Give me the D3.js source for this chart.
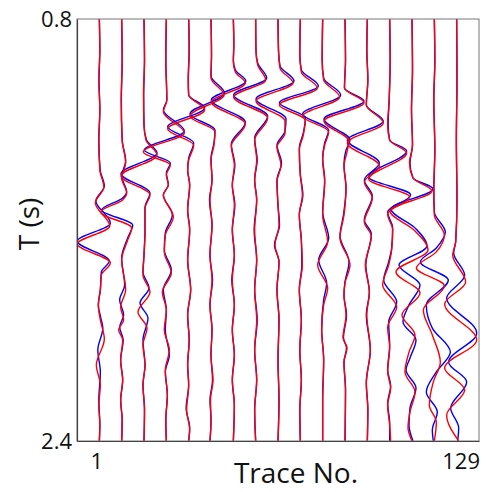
<!DOCTYPE html>
<html>
<head>
<meta charset="utf-8">
<script src="https://cdn.jsdelivr.net/npm/d3@7"></script>
<style>
  body { margin: 0; background: #fff; }
  svg { display: block; }
  text { font-family: "Open Sans", "Noto Sans", sans-serif; fill: #111; }
</style>
</head>
<body>
<svg id="chart" width="487" height="492"></svg>
<script>
// Trace numbers of the plotted gather (every 8th trace)
const traceNumbers = [1, 9, 17, 25, 33, 41, 49, 57, 65, 73, 81, 89, 97, 105, 113, 121, 129];
const timeTicks = [0.8, 2.4];
const traceTicks = [1, 129];

// Each trace is a list of [time (s), deflection in trace-number units]
const redTraces = [
  [[0.800,0],[0.918,0.18],[1.031,-0.18],[1.145,0.18],[1.259,-0.18],[1.373,0.18],[1.437,1.61],[1.498,-1.43],[1.585,3.76],[1.653,-7.88],[1.725,3.94],[1.771,0.72],[1.827,0.36],[1.884,-0.36],[1.941,0.36],[2.013,1.79],[2.112,-1.07],[2.188,0.36],[2.264,-0.18],[2.339,0.18],[2.400,0]],
  [[0.800,0],[0.955,0.18],[1.107,-0.18],[1.259,0.18],[1.346,1.43],[1.403,0],[1.460,1.79],[1.486,0.36],[1.532,-7.52],[1.592,3.58],[1.638,2.15],[1.714,0],[1.827,1.43],[1.892,-0.36],[1.941,0.72],[1.979,-1.07],[2.017,0.36],[2.093,-0.36],[2.169,0.36],[2.245,-0.36],[2.320,0.18],[2.400,0]],
  [[0.800,0],[0.955,0.18],[1.088,-0.18],[1.202,0],[1.259,0.72],[1.316,4.66],[1.395,-8.24],[1.467,2.15],[1.517,0.36],[1.600,0.36],[1.695,0],[1.771,-0.36],[1.835,2.15],[1.911,-2.15],[1.972,1.07],[2.036,-0.36],[2.112,0.36],[2.188,-0.36],[2.282,0.18],[2.400,0]],
  [[0.800,0],[0.955,-0.18],[1.107,0.18],[1.153,-1.07],[1.232,6.45],[1.304,-8.24],[1.354,1.43],[1.391,0],[1.429,0.72],[1.467,-1.07],[1.551,2.51],[1.619,-0.36],[1.683,-0.72],[1.763,1.79],[1.835,-1.43],[1.903,0],[1.979,-0.72],[2.055,1.07],[2.131,-0.36],[2.226,0.36],[2.320,-0.18],[2.400,0]],
  [[0.800,0],[0.918,0.18],[1.031,-0.18],[1.088,0],[1.145,5.73],[1.217,-7.52],[1.278,1.79],[1.335,0],[1.373,-0.36],[1.429,0.36],[1.524,-0.36],[1.600,0.36],[1.714,-0.36],[1.827,0.72],[1.922,-0.36],[2.017,0.18],[2.112,-0.36],[2.188,0],[2.282,-0.72],[2.358,0.36],[2.400,0]],
  [[0.800,0],[0.936,0.18],[1.024,0],[1.088,4.66],[1.168,-7.52],[1.228,1.43],[1.278,1.07],[1.335,0],[1.410,0.36],[1.486,-0.36],[1.581,0.36],[1.695,-0.36],[1.790,0.36],[1.884,-0.36],[1.979,0.36],[2.074,0],[2.169,0.72],[2.245,-0.18],[2.320,0],[2.400,-0.36]],
  [[0.800,0],[0.899,0.18],[0.963,0],[1.001,0.72],[1.043,4.30],[1.115,-7.88],[1.198,4.30],[1.281,-0.72],[1.354,0.36],[1.429,-0.36],[1.505,0.36],[1.600,-0.36],[1.695,0.36],[1.790,-0.36],[1.884,0.36],[1.979,-0.36],[2.074,0.36],[2.169,-0.36],[2.264,0.36],[2.400,0]],
  [[0.800,0],[0.918,0.11],[0.974,0.72],[1.031,3.58],[1.096,-7.88],[1.175,4.30],[1.259,-0.36],[1.335,0.36],[1.410,-0.36],[1.486,0.36],[1.600,-0.36],[1.714,0.36],[1.827,-0.36],[1.941,0.36],[2.055,-0.36],[2.169,0.36],[2.282,-0.36],[2.400,0]],
  [[0.800,0],[0.918,0.18],[0.986,0.72],[1.043,5.37],[1.111,-7.88],[1.187,2.51],[1.232,2.51],[1.285,-0.36],[1.354,1.07],[1.418,-0.36],[1.505,0],[1.581,0.36],[1.657,-1.07],[1.721,0.36],[1.827,-0.36],[1.941,0.36],[2.093,0],[2.245,0.36],[2.400,0]],
  [[0.800,0],[0.936,-0.18],[1.001,0.36],[1.062,6.09],[1.126,-7.52],[1.183,1.79],[1.240,1.07],[1.297,-0.36],[1.391,0],[1.467,0.72],[1.543,-0.36],[1.638,0.36],[1.733,0.72],[1.827,-0.36],[1.941,0.36],[2.055,-0.18],[2.169,0.36],[2.282,-0.18],[2.400,0]],
  [[0.800,0],[0.955,-0.18],[1.031,0.36],[1.096,6.09],[1.168,-7.16],[1.228,2.15],[1.278,0.72],[1.335,0],[1.418,0.72],[1.543,0],[1.645,1.79],[1.733,-1.79],[1.820,1.79],[1.884,0.36],[1.979,-0.36],[2.093,0.36],[2.245,0],[2.400,0]],
  [[0.800,0],[0.955,0.18],[1.062,-0.18],[1.118,6.81],[1.187,-7.52],[1.263,1.43],[1.304,0.72],[1.357,-0.36],[1.441,0.36],[1.543,-0.36],[1.630,-1.79],[1.733,1.79],[1.801,0],[1.846,-0.36],[1.922,0.36],[2.009,-0.72],[2.047,0.72],[2.101,-0.36],[2.207,0.18],[2.400,0]],
  [[0.800,0],[0.918,-0.18],[1.031,0.18],[1.126,-0.36],[1.194,5.73],[1.270,-7.16],[1.357,4.30],[1.418,-1.07],[1.479,1.79],[1.570,-1.07],[1.623,1.43],[1.733,-0.72],[1.835,0.72],[1.922,-0.18],[2.055,1.07],[2.180,-0.36],[2.282,0.18],[2.400,0]],
  [[0.800,0],[0.955,0.18],[1.107,-0.18],[1.202,-0.72],[1.259,0],[1.308,6.09],[1.407,-7.52],[1.475,7.16],[1.539,-0.72],[1.600,1.07],[1.676,0.72],[1.733,-0.36],[1.809,-2.51],[1.892,2.51],[1.968,-0.72],[2.047,0],[2.138,-0.72],[2.199,0.36],[2.264,-0.72],[2.339,0],[2.400,0.36]],
  [[0.800,0],[0.993,0.18],[1.145,-0.18],[1.278,0.18],[1.346,-0.90],[1.403,0.36],[1.452,7.16],[1.528,-7.88],[1.600,0.72],[1.676,5.73],[1.759,-5.73],[1.839,2.87],[1.922,-3.58],[1.998,1.07],[2.063,-1.07],[2.138,-2.51],[2.214,1.07],[2.290,-0.72],[2.350,-1.43],[2.400,0]],
  [[0.800,0],[0.955,0.18],[1.107,-0.18],[1.297,0.18],[1.448,-0.18],[1.543,0],[1.619,3.58],[1.683,0.72],[1.744,-6.45],[1.812,3.58],[1.903,-3.94],[1.998,-0.72],[2.101,2.15],[2.176,-0.36],[2.264,-1.79],[2.328,0.72],[2.400,0]],
  [[0.800,0],[1.031,0.11],[1.259,-0.11],[1.486,0.11],[1.645,-0.36],[1.695,-1.43],[1.797,3.22],[1.881,-4.30],[2.017,7.16],[2.123,-4.30],[2.207,2.87],[2.301,-3.58],[2.400,0.72]]
];

const blueTraces = [
  [[0.800,0],[0.918,0.18],[1.031,-0.11],[1.145,0.18],[1.259,-0.18],[1.373,0.29],[1.433,1.79],[1.490,-1.25],[1.574,3.94],[1.642,-7.88],[1.718,3.58],[1.759,0.72],[1.827,0.36],[1.884,-0.36],[1.934,0.54],[1.972,1.25],[2.055,-0.54],[2.138,0.36],[2.245,-0.18],[2.339,0.18],[2.400,0]],
  [[0.800,0],[0.955,0.18],[1.107,-0.11],[1.259,0.18],[1.338,1.43],[1.395,0],[1.456,1.79],[1.479,0.36],[1.524,-7.16],[1.581,3.94],[1.630,2.15],[1.706,0],[1.809,1.07],[1.865,-0.72],[1.922,0.72],[1.968,-0.72],[2.017,0.54],[2.093,-0.36],[2.169,0.36],[2.245,-0.36],[2.320,0.18],[2.400,0]],
  [[0.800,0],[0.955,0.18],[1.088,-0.11],[1.202,0],[1.259,0.90],[1.308,4.66],[1.387,-8.24],[1.460,2.15],[1.513,0.36],[1.600,0.36],[1.695,0],[1.759,-0.36],[1.820,1.79],[1.877,-1.43],[1.934,1.43],[2.017,-0.36],[2.112,0.36],[2.188,-0.36],[2.282,0.18],[2.400,0]],
  [[0.800,0],[0.955,-0.18],[1.107,0.18],[1.145,-1.07],[1.225,6.45],[1.297,-7.88],[1.346,1.43],[1.384,0],[1.429,0.72],[1.467,-1.07],[1.543,2.15],[1.611,-0.36],[1.676,-0.72],[1.752,1.79],[1.827,-1.07],[1.903,0],[1.979,-0.36],[2.074,1.07],[2.138,-0.36],[2.226,0.36],[2.320,-0.18],[2.400,0]],
  [[0.800,0],[0.918,0.18],[1.031,-0.11],[1.088,0],[1.137,5.73],[1.209,-7.52],[1.270,1.79],[1.327,0],[1.373,-0.36],[1.429,0.36],[1.524,-0.36],[1.600,0.36],[1.714,-0.36],[1.827,0.72],[1.922,-0.36],[2.017,0.18],[2.112,-0.36],[2.188,0],[2.275,-0.90],[2.350,0.36],[2.400,0]],
  [[0.800,0],[0.936,0.18],[1.016,0],[1.081,4.84],[1.160,-7.52],[1.221,1.43],[1.270,1.07],[1.327,0],[1.410,0.36],[1.486,-0.54],[1.581,0.36],[1.695,-0.36],[1.790,0.54],[1.884,-0.36],[1.979,0.36],[2.074,0],[2.169,0.54],[2.245,-0.36],[2.320,0],[2.400,-0.36]],
  [[0.800,0],[0.899,0.18],[0.955,0],[0.993,0.72],[1.035,4.48],[1.107,-7.88],[1.191,4.30],[1.274,-0.72],[1.354,0.54],[1.429,-0.36],[1.505,0.54],[1.600,-0.36],[1.695,0.36],[1.790,-0.54],[1.884,0.36],[1.979,-0.36],[2.074,0.36],[2.169,-0.36],[2.264,0.36],[2.400,0]],
  [[0.800,0],[0.918,0.11],[0.967,0.72],[1.024,3.94],[1.088,-7.88],[1.168,4.30],[1.251,-0.36],[1.335,0.54],[1.410,-0.36],[1.486,0.36],[1.600,-0.54],[1.714,0.36],[1.827,-0.36],[1.941,0.54],[2.055,-0.36],[2.169,0.36],[2.282,-0.36],[2.400,0]],
  [[0.800,0],[0.918,0.18],[0.978,0.72],[1.035,5.73],[1.103,-7.88],[1.179,2.87],[1.225,2.51],[1.278,-0.36],[1.346,1.25],[1.410,-0.36],[1.505,0],[1.581,0.54],[1.657,-1.25],[1.721,0.36],[1.827,-0.36],[1.941,0.36],[2.093,0],[2.245,0.36],[2.400,0]],
  [[0.800,0],[0.936,-0.18],[0.993,0.36],[1.054,6.45],[1.118,-7.52],[1.175,1.79],[1.232,1.07],[1.289,-0.36],[1.391,0],[1.467,0.90],[1.543,-0.36],[1.638,0.36],[1.733,0.54],[1.827,-0.36],[1.941,0.36],[2.055,-0.18],[2.169,0.36],[2.282,-0.18],[2.400,0]],
  [[0.800,0],[0.955,-0.18],[1.024,0.36],[1.088,6.45],[1.160,-7.16],[1.221,2.15],[1.270,0.72],[1.327,0],[1.410,0.72],[1.532,0],[1.630,2.15],[1.714,-1.43],[1.801,1.43],[1.865,0.36],[1.979,-0.36],[2.093,0.36],[2.245,0],[2.400,0]],
  [[0.800,0],[0.955,0.18],[1.062,-0.18],[1.111,6.81],[1.179,-7.52],[1.259,1.79],[1.297,0.36],[1.350,-0.36],[1.441,0.36],[1.543,-0.54],[1.623,-1.79],[1.721,1.43],[1.797,0],[1.846,-0.36],[1.922,0.54],[2.009,-0.54],[2.047,0.54],[2.101,-0.36],[2.207,0.18],[2.400,0]],
  [[0.800,0],[0.918,-0.18],[1.031,0.18],[1.126,-0.36],[1.187,5.73],[1.259,-7.16],[1.346,4.30],[1.410,-1.07],[1.471,1.79],[1.562,-1.07],[1.615,1.43],[1.733,-0.54],[1.835,0.72],[1.922,-0.36],[2.055,1.07],[2.180,-0.36],[2.282,0.18],[2.400,0]],
  [[0.800,0],[0.955,0.18],[1.107,-0.18],[1.202,-0.54],[1.259,0],[1.300,6.09],[1.399,-7.52],[1.467,7.52],[1.532,-0.72],[1.592,1.07],[1.668,0.72],[1.721,-0.36],[1.790,-2.15],[1.873,2.51],[1.949,-0.36],[2.036,0],[2.131,-0.72],[2.191,0.36],[2.256,-0.72],[2.332,0],[2.400,0]],
  [[0.800,0],[0.993,0.18],[1.145,-0.18],[1.278,0.18],[1.346,-0.72],[1.403,0.36],[1.444,7.52],[1.520,-7.52],[1.592,1.07],[1.661,5.37],[1.733,-4.66],[1.809,2.87],[1.884,-1.07],[1.949,-3.22],[2.017,1.43],[2.085,-0.72],[2.131,-2.15],[2.199,1.43],[2.275,-0.72],[2.339,-1.07],[2.400,0.36]],
  [[0.800,0],[0.955,0.18],[1.107,-0.18],[1.297,0.18],[1.448,-0.18],[1.532,0],[1.608,3.94],[1.668,0.72],[1.721,-5.01],[1.790,5.01],[1.884,-2.87],[1.972,-0.72],[2.063,5.73],[2.138,0.72],[2.214,-2.87],[2.290,1.07],[2.358,-0.72],[2.400,-0.36]],
  [[0.800,0],[1.031,0.11],[1.259,-0.11],[1.486,0.11],[1.645,-0.36],[1.687,-1.07],[1.772,2.87],[1.858,-3.58],[1.991,7.16],[2.101,-2.87],[2.176,3.58],[2.275,-2.15],[2.350,0.72],[2.400,0.36]]
];

const W = 487, H = 492;
const margin = { top: 19, right: 8, bottom: 51, left: 77 };

const svg = d3.select("#chart");

const x = d3.scaleLinear().domain([-7, 137]).range([margin.left, W - margin.right]);
const y = d3.scaleLinear().domain([0.8, 2.4]).range([margin.top, H - margin.bottom]);

svg.append("defs").append("clipPath").attr("id", "plot-clip")
  .append("rect")
  .attr("x", x.range()[0]).attr("y", y.range()[0])
  .attr("width", x.range()[1] - x.range()[0])
  .attr("height", y.range()[1] - y.range()[0]);

// wiggle path for one trace: baseline at its trace number plus deflection;
// time runs down the page, so the spline is monotone in y
const wiggle = (traceNo) => d3.line()
  .x(d => x(traceNo + d[1]))
  .y(d => y(d[0]))
  .curve(d3.curveMonotoneY);

const plot = svg.append("g").attr("clip-path", "url(#plot-clip)");

plot.append("g").selectAll("path")
  .data(blueTraces)
  .join("path")
  .attr("d", (d, i) => wiggle(traceNumbers[i])(d))
  .attr("fill", "none")
  .attr("stroke", "#0000ff")
  .attr("stroke-width", 1.4);

plot.append("g").selectAll("path")
  .data(redTraces)
  .join("path")
  .attr("d", (d, i) => wiggle(traceNumbers[i])(d))
  .attr("fill", "none")
  .attr("stroke", "#ff0000")
  .attr("stroke-width", 1.4);

// frame
svg.append("rect")
  .attr("x", x.range()[0]).attr("y", y.range()[0])
  .attr("width", x.range()[1] - x.range()[0])
  .attr("height", y.range()[1] - y.range()[0])
  .attr("fill", "none")
  .attr("stroke", "#777")
  .attr("stroke-width", 1);

// axes
const yAxis = svg.append("g")
  .attr("transform", `translate(${margin.left},0)`)
  .call(d3.axisLeft(y).tickValues(timeTicks).tickFormat(d3.format(".1f")).tickSize(0).tickPadding(5));
const xAxis = svg.append("g")
  .attr("transform", `translate(0,${H - margin.bottom})`)
  .call(d3.axisBottom(x).tickValues(traceTicks).tickSize(0).tickPadding(12));

[yAxis, xAxis].forEach(g => {
  g.select(".domain").attr("stroke", "#444").attr("stroke-width", 1.2);
  g.selectAll("text")
    .style("font-family", '"Open Sans", "Noto Sans", sans-serif')
    .style("font-size", "22px")
    .attr("fill", "#111");
});
xAxis.selectAll(".tick text").attr("dx", d => d === traceTicks[0] ? -3 : 4);

svg.append("text")
  .attr("x", (x.range()[0] + x.range()[1]) / 2 + 18)
  .attr("y", H - 9)
  .attr("text-anchor", "middle")
  .style("font-size", "28px")
  .text("Trace No.");

svg.append("text")
  .attr("transform", `translate(39,${(y.range()[0] + y.range()[1]) / 2 - 6}) rotate(-90)`)
  .attr("text-anchor", "middle")
  .style("font-size", "28px")
  .text("T (s)");
</script>
</body>
</html>
